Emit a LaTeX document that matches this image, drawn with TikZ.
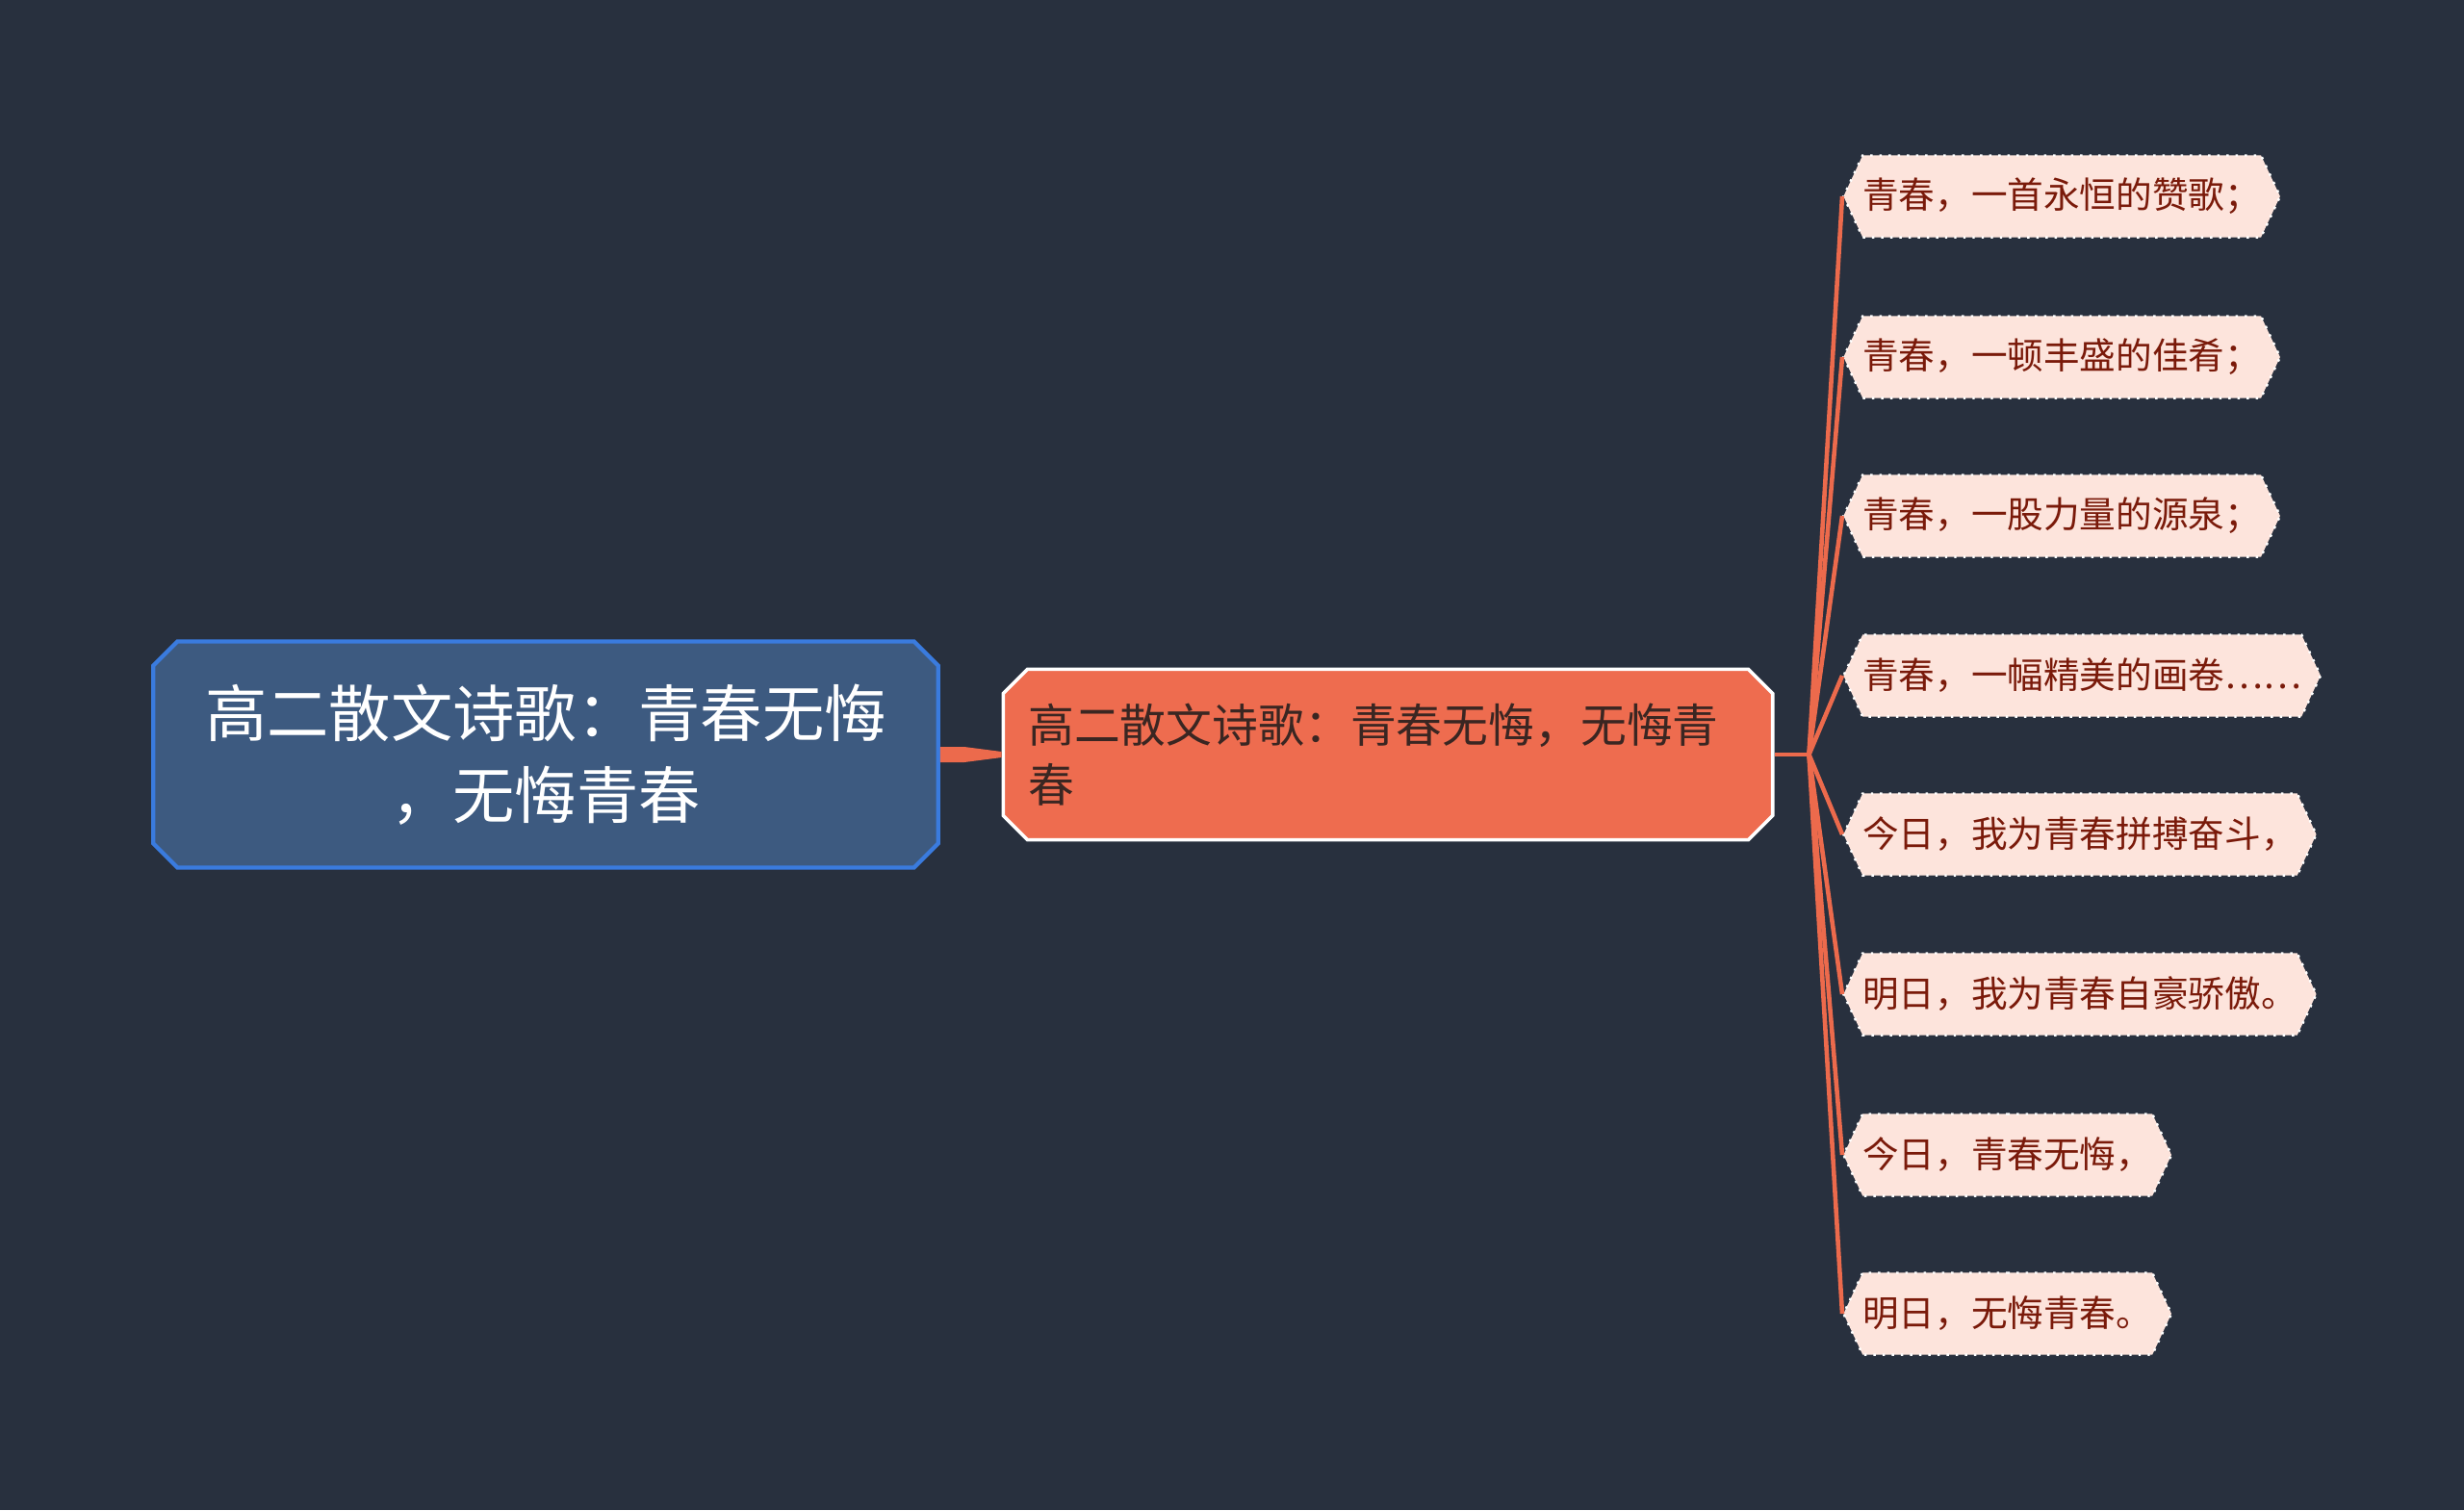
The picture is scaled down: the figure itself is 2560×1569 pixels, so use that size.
\documentclass[tikz,border=0pt]{standalone}
\usepackage{fontspec}
\newfontfamily\cjk{Noto Sans CJK SC}
\usetikzlibrary{shapes.misc, shapes.symbols, calc}

\definecolor{bgnavy}{RGB}{40,48,62}
\definecolor{rootfill}{RGB}{61,90,128}
\definecolor{rootedge}{RGB}{58,123,222}
\definecolor{midfill}{RGB}{238,108,79}
\definecolor{midtext}{RGB}{58,38,34}
\definecolor{leaffill}{RGB}{253,228,220}
\definecolor{leaftext}{RGB}{122,26,10}
\definecolor{branchred}{RGB}{236,106,76}

\begin{document}
\begin{tikzpicture}[x=0.01cm, y=-0.01cm,
    rootbox/.style={chamfered rectangle, chamfered rectangle xsep=0.15cm,
        draw=rootedge, line width=1.2pt, fill=rootfill, text=white,
        font=\cjk\fontsize{18.3}{24}\selectfont, align=center,
        minimum width=8.15cm, minimum height=2.35cm},
    midbox/.style={chamfered rectangle, chamfered rectangle xsep=0.15cm,
        draw=white, line width=1pt, fill=midfill, text=midtext,
        font=\cjk\fontsize{13.6}{17.6}\selectfont, align=left,
        text width=7.47cm, inner xsep=0.11cm, minimum height=1.77cm},
    leafbox/.style={signal, signal to=west and east, signal pointer angle=130,
        fill=leaffill, draw=white, dotted, line width=0.7pt, text=leaftext,
        font=\cjk\fontsize{10.7}{12}\selectfont, minimum height=0.85cm,
        inner xsep=0pt, anchor=west},
    branch/.style={draw=branchred, line width=1.3pt}]

    \fill[bgnavy] (0,0) rectangle (2560,1569);
    \useasboundingbox (0,0) rectangle (2560,1569);

    \node[rootbox] (root) at (567,784) {高二散文诗歌：青春无悔\\，无悔青春};
    \node[midbox] (mid) at (1442,784) {高二散文诗歌：青春无悔，无悔青\\春};

    % tapered link root -> mid
    \fill[branchred] ($(root.east)+(0,-8)$) -- ($(root.east)+(25,-8)$)
        -- ($(mid.west)+(0,-3)$) -- ($(mid.west)+(0,3)$)
        -- ($(root.east)+(25,8)$) -- ($(root.east)+(0,8)$) -- cycle;

    \coordinate (hub) at ($(mid.east)+(36,0)$);
    \draw[branch] (mid.east) -- (hub);

    \foreach \y/\txt [count=\i] in {204/青春，一首永恒的赞歌；, 371/青春，一顿丰盛的佳肴；,
        536/青春，一股力量的源泉；, 702/青春，一幅精美的画卷……,
        867/今日，我为青春拼搏奋斗，, 1033/明日，我为青春自豪骄傲。,
        1200/今日，青春无悔，, 1365/明日，无悔青春。}
    {
        \node[leafbox] (leaf\i) at (1914,\y) {\txt};
        \draw[branch] (hub) -- (leaf\i.west);
    }
\end{tikzpicture}
\end{document}
